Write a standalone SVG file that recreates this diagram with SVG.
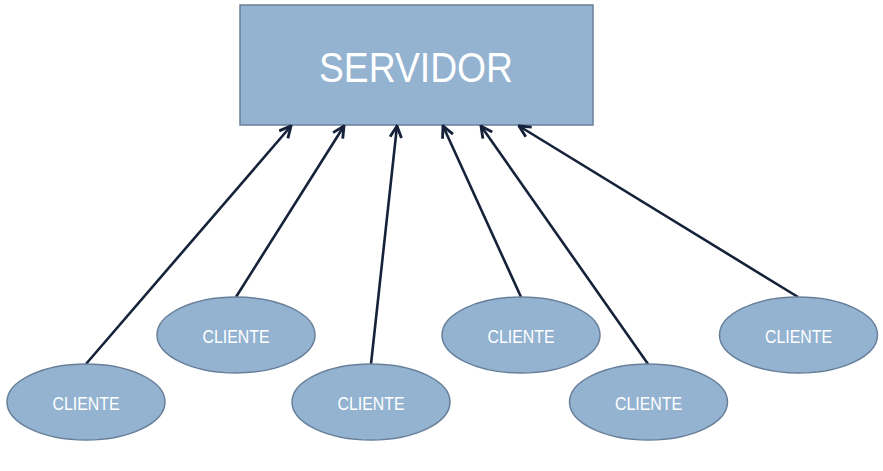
<svg xmlns="http://www.w3.org/2000/svg" width="883" height="471" viewBox="0 0 883 471">
<style>
.node{fill:#93b3d1;stroke:#687f99;stroke-width:1.5}
.lbl{fill:#ffffff;font-family:"Liberation Sans",Arial,sans-serif;text-anchor:middle}
.c{font-size:18px}
.s{font-size:42px}
.edge{stroke:#16223a;stroke-width:2.6;fill:none;marker-end:url(#arr)}
</style>
<defs>
<marker id="arr" viewBox="0 0 10 10" refX="9" refY="5" markerWidth="5.5" markerHeight="5.5" orient="auto" markerUnits="strokeWidth">
<path d="M1,1 L9,5 L1,9" fill="none" stroke="#16223a" stroke-width="2"/>
</marker>
</defs>
<rect width="883" height="471" fill="#ffffff"/>
<g id="servidor">
<rect class="node" x="240" y="5" width="353" height="120"/>
<text class="lbl s" x="416" y="82" textLength="194" lengthAdjust="spacingAndGlyphs">SERVIDOR</text>
</g>
<g id="edges">
<line class="edge" x1="86" y1="364" x2="291" y2="126"/>
<line class="edge" x1="236" y1="297" x2="344" y2="126"/>
<line class="edge" x1="371" y1="364" x2="397" y2="126"/>
<line class="edge" x1="521" y1="297" x2="443" y2="126"/>
<line class="edge" x1="648" y1="364" x2="481" y2="126"/>
<line class="edge" x1="798" y1="297" x2="519" y2="126"/>
</g>
<g id="cliente1"><ellipse class="node" cx="86" cy="402" rx="79" ry="38"/><text class="lbl c" x="86" y="409.5" textLength="67" lengthAdjust="spacingAndGlyphs">CLIENTE</text></g>
<g id="cliente2"><ellipse class="node" cx="236" cy="335" rx="79" ry="38"/><text class="lbl c" x="236" y="342.5" textLength="67" lengthAdjust="spacingAndGlyphs">CLIENTE</text></g>
<g id="cliente3"><ellipse class="node" cx="371" cy="402" rx="79" ry="38"/><text class="lbl c" x="371" y="409.5" textLength="67" lengthAdjust="spacingAndGlyphs">CLIENTE</text></g>
<g id="cliente4"><ellipse class="node" cx="521" cy="335" rx="79" ry="38"/><text class="lbl c" x="521" y="342.5" textLength="67" lengthAdjust="spacingAndGlyphs">CLIENTE</text></g>
<g id="cliente5"><ellipse class="node" cx="648.5" cy="402" rx="79" ry="38"/><text class="lbl c" x="648.5" y="409.5" textLength="67" lengthAdjust="spacingAndGlyphs">CLIENTE</text></g>
<g id="cliente6"><ellipse class="node" cx="798.5" cy="335" rx="79" ry="38"/><text class="lbl c" x="798.5" y="342.5" textLength="67" lengthAdjust="spacingAndGlyphs">CLIENTE</text></g>
</svg>
